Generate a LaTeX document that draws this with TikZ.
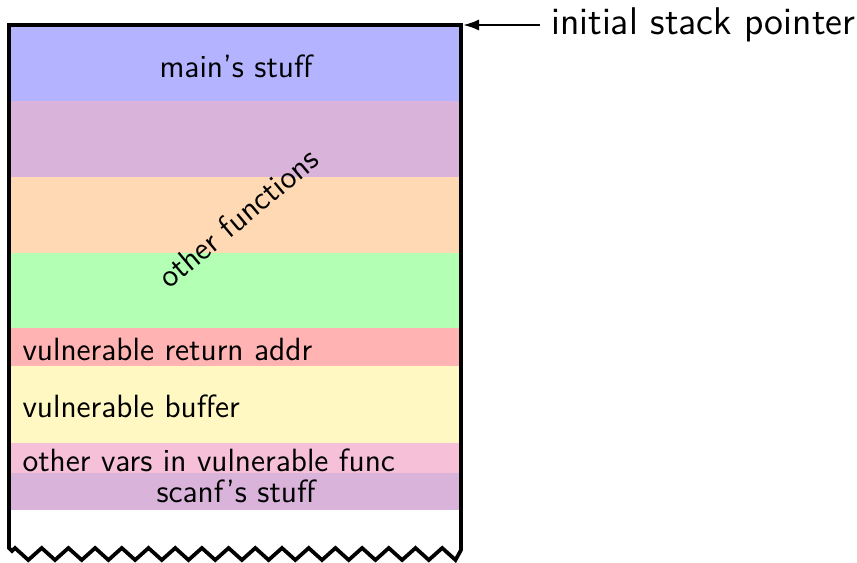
\documentclass[tikz,border=0pt]{standalone}
\usepackage{xcolor}
\usepackage{tikz}
\usetikzlibrary{arrows.meta,positioning}
\definecolor{MainBlue}   {HTML}{B3B3FF}
\definecolor{FrameViolet}{HTML}{D9B3D9}
\definecolor{FrameOrange}{HTML}{FFD9B3}
\definecolor{FrameGreen} {HTML}{B3FFB3}
\definecolor{RetRed}     {HTML}{FFB3B3}
\definecolor{BufYellow}  {HTML}{FFF8C2}
\definecolor{VarsPink}   {HTML}{F7C0D9}
\tikzset{
  stacklabel/.style={font=\sffamily\large,inner sep=0pt},
  pointerlabel/.style={font=\sffamily\Large,anchor=west,inner sep=4pt},
}
\begin{document}
\begin{tikzpicture}[x=0.0131cm,y=-0.0131cm]
    \useasboundingbox (0,0) rectangle (857,563);
    % stack frames, top to bottom
    \foreach \ytop/\ybot/\col in {25/101/MainBlue,101/177/FrameViolet,
        177/253/FrameOrange,253/328/FrameGreen,328/366/RetRed,
        366/443/BufYellow,443/473/VarsPink,473/510/FrameViolet}
      \fill[\col] (9,\ytop) rectangle (461,\ybot);
    \node[stacklabel] (mainstuff) at (236,66) {main's stuff};
    \node[stacklabel,rotate=40] (otherfuncs) at (238,218) {other functions};
    \node[stacklabel,anchor=west] (retaddr) at (22,349) {vulnerable return addr};
    \node[stacklabel,anchor=west] (buffer) at (22,406) {vulnerable buffer};
    \node[stacklabel,anchor=base west] (othervars) at (22,471) {other vars in vulnerable func};
    \node[stacklabel] (scanfstuff) at (236,491) {scanf's stuff};
    % outline with torn bottom
    \draw[line width=1.4pt,line join=miter]
      (9,25) -- (9,548) -- (12,551)
      \foreach \i in {0,...,16} {
        -- ({15+26.7*\i},548) -- ({28.3+26.7*\i},560)
      }
      -- (461,550) -- (461,25) -- cycle;
    \coordinate (stacktop) at (463,25);
    \node[pointerlabel] (initsp) at (540,25) {initial stack pointer};
    \draw[-{Latex[length=6pt,width=4.2pt]},line width=0.9pt] (initsp.west) -- (stacktop);
  \end{tikzpicture}
\end{document}
